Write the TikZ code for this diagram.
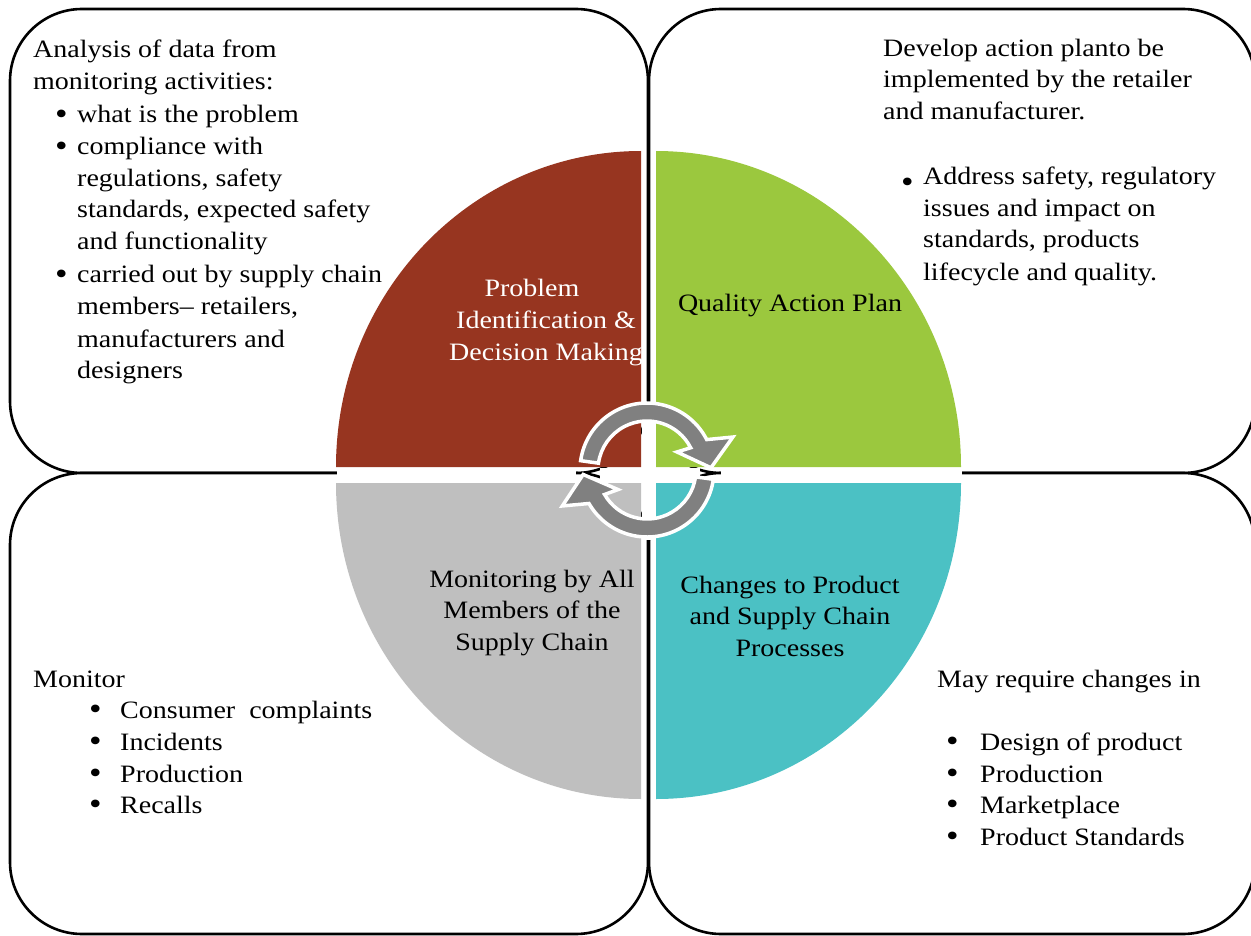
\documentclass[tikz,border=0pt]{standalone}
\usepackage{fontspec}
\setmainfont{Liberation Serif}[FakeStretch=1.12]
\usetikzlibrary{calc}
\definecolor{qred}{RGB}{151,53,32}
\definecolor{qgreen}{RGB}{155,200,62}
\definecolor{qgray}{RGB}{191,191,191}
\definecolor{qteal}{RGB}{75,193,196}
\definecolor{ringgray}{RGB}{128,128,128}
\newcommand{\bigbul}{\raisebox{-1.5pt}{\fontsize{32}{32}\selectfont\textbullet}}

\begin{document}
\begin{tikzpicture}[x=1pt,y=-1pt,
  panel/.style={draw=black,fill=white,line width=2.6pt,rounded corners=72pt},
  txt/.style={anchor=base west,inner sep=0pt,font=\fontsize{25}{31}\selectfont},
  lbl/.style={anchor=base,inner sep=0pt,font=\fontsize{25}{31}\selectfont},
  cyc/.style={fill=ringgray,draw=white,line width=3.5pt,line join=miter}]
\useasboundingbox (0,0) rectangle (1251,936);

% four rounded panels
\draw[panel] (10,9) rectangle (648,473);
\draw[panel] (649,9) rectangle (1255,473);
\draw[panel] (10,473) rectangle (648,934);
\draw[panel] (649,473) rectangle (1255,934);

% quarter discs of the cycle
\fill[qred] (641,467) -- (336,467) arc[start angle=180, end angle=270, x radius=305, y radius=316] -- cycle;
\fill[qgreen] (656,467) -- (656,151) arc[start angle=270, end angle=360, x radius=305, y radius=316] -- cycle;
\fill[qgray] (641,483) -- (336,483) arc[start angle=180, end angle=90, x radius=305, y radius=316] -- cycle;
\fill[qteal] (656,483) -- (961,483) arc[start angle=0, end angle=90, x radius=305, y radius=316] -- cycle;

% white gaps between the quarters
\fill[white] (337,467.5) rectangle (576,482.5);
\fill[white] (721,467.5) rectangle (962,482.5);
\fill[white] (641.5,404) rectangle (655.5,540);
\fill[white] (600,467.5) rectangle (700,482.5);

% circular arrows in the middle
\coordinate (c) at (647,470);
\path[cyc] ($(c)+(188:67)$) arc[start angle=188, end angle=333, radius=67]
  -- ($(c)+(339:92)$) -- ($(c)+(358:64)$) -- ($(c)+(329:35)$)
  -- ($(c)+(333:49)$) arc[start angle=333, end angle=188, radius=49] -- cycle;
\path[cyc] ($(c)+(8:67)$) arc[start angle=8, end angle=150, radius=67]
  -- ($(c)+(157:92)$) -- ($(c)+(176:64)$) -- ($(c)+(146:35)$)
  -- ($(c)+(150:49)$) arc[start angle=150, end angle=8, radius=49] -- cycle;

% quadrant labels
\node[lbl,text=white] (p1) at (532,297) {Problem};
\node[lbl,text=white] (p2) at (546,328) {Identification \&};
\node[lbl,text=white] (p3) at (546,360) {Decision Making};
\node[lbl] (q1) at (790,312) {Quality Action Plan};
\node[lbl] (m1) at (532,587) {Monitoring by All};
\node[lbl] (m2) at (532,618) {Members of the};
\node[lbl] (m3) at (532,650) {Supply Chain};
\node[lbl] (s1) at (790,593) {Changes to Product};
\node[lbl] (s2) at (790,624) {and Supply Chain};
\node[lbl] (s3) at (790,656) {Processes};

% upper left panel text
\node[txt] (a1) at (33,58) {Analysis of data from};
\node[txt] (a2) at (33,90) {monitoring activities:};
\node[txt] (a3b) at (55,123) {\bigbul};
\node[txt] (a3) at (77,123) {what is the problem};
\node[txt] (a4b) at (55,155) {\bigbul};
\node[txt] (a4) at (77,155) {compliance with};
\node[txt] (a5) at (77,187) {regulations, safety};
\node[txt] (a6) at (77,218) {standards, expected safety};
\node[txt] (a7) at (77,250) {and functionality};
\node[txt] (a8b) at (55,283) {\bigbul};
\node[txt] (a8) at (77,283) {carried out by supply chain};
\node[txt] (a9) at (77,315) {members– retailers,};
\node[txt] (a10) at (77,347) {manufacturers and};
\node[txt] (a11) at (77,378) {designers};

% upper right panel text
\node[txt] (b1) at (883,57) {Develop action planto be};
\node[txt] (b2) at (883,88) {implemented by the retailer};
\node[txt] (b3) at (883,120) {and manufacturer.};
\node[txt] (b4b) at (901,185) {\raisebox{-6pt}{\bigbul}};
\node[txt] (b4) at (923,185) {Address safety, regulatory};
\node[txt] (b5) at (923,217) {issues and impact on};
\node[txt] (b6) at (923,248) {standards, products};
\node[txt] (b7) at (923,280) {lifecycle and quality.};

% lower left panel text
\node[txt] (c1) at (33,687) {Monitor};
\node[txt] (c2b) at (89,718) {\bigbul};
\node[txt] (c2) at (120,718) {Consumer\ \ complaints};
\node[txt] (c3b) at (89,750) {\bigbul};
\node[txt] (c3) at (120,750) {Incidents};
\node[txt] (c4b) at (89,782) {\bigbul};
\node[txt] (c4) at (120,782) {Production};
\node[txt] (c5b) at (89,813) {\bigbul};
\node[txt] (c5) at (120,813) {Recalls};

% lower right panel text
\node[txt] (d1) at (937,687) {May require changes in};
\node[txt] (d2b) at (946,750) {\bigbul};
\node[txt] (d2) at (980,750) {Design of product};
\node[txt] (d3b) at (946,782) {\bigbul};
\node[txt] (d3) at (980,782) {Production};
\node[txt] (d4b) at (946,813) {\bigbul};
\node[txt] (d4) at (980,813) {Marketplace};
\node[txt] (d5b) at (946,845) {\bigbul};
\node[txt] (d5) at (980,845) {Product Standards};
\end{tikzpicture}
\end{document}
